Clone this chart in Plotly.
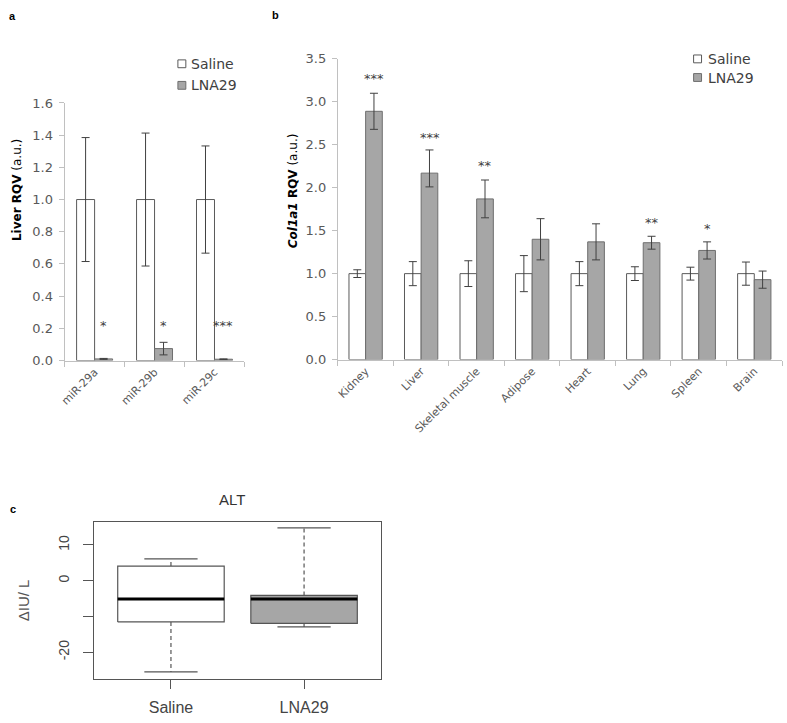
import plotly.graph_objects as go

W, H = 787, 723

# ---------------- data ----------------
series_names = ["Saline", "LNA29"]

# panel a
mir_labels = ["miR-29a", "miR-29b", "miR-29c"]
mir_saline = [1.0, 1.0, 1.0]
mir_saline_err = [0.385, 0.413, 0.333]
mir_lna = [0.010, 0.074, 0.008]
mir_lna_err = [0.003, 0.039, 0.002]
mir_stars = ["*", "*", "***"]
mir_star_y = [0.237, 0.237, 0.237]

# panel b
tissues = ["Kidney", "Liver", "Skeletal muscle", "Adipose", "Heart", "Lung", "Spleen", "Brain"]
col_saline = [1.0, 1.0, 1.0, 1.0, 1.0, 1.0, 1.0, 1.0]
col_saline_err = [0.045, 0.14, 0.15, 0.21, 0.14, 0.08, 0.075, 0.135]
col_lna = [2.89, 2.17, 1.87, 1.40, 1.37, 1.36, 1.27, 0.93]
col_lna_err_up = [0.21, 0.27, 0.22, 0.24, 0.21, 0.075, 0.10, 0.10]
col_lna_err_dn = [0.21, 0.16, 0.22, 0.24, 0.21, 0.075, 0.10, 0.10]
col_stars = ["***", "***", "**", "", "", "**", "*", ""]
col_star_y = [3.31, 2.62, 2.29, None, None, 1.63, 1.56, None]

# panel c (box plot statistics, ALT in IU/L)
alt_groups = ["Saline", "LNA29"]
alt_lower = [-25.5, -12.9]
alt_q1 = [-11.5, -11.9]
alt_median = [-5.1, -5.1]
alt_q3 = [4.1, -4.1]
alt_upper = [6.1, 14.8]
alt_ticks = [10, 0, -10, -20]
alt_ticktext = ["10", "0", "", "-20"]

# ---------------- styles ----------------
FONT = "DejaVu Sans"
TICKC = "#595959"
AXC = "#c0c0c0"
SAL_FILL = "white"
SAL_LINE = "#5a5a5a"
LNA_FILL = "#a6a6a6"
LNA_LINE = "#6e6e6e"
ERRC = "#404040"


def px_x(p):
    return p / W


def px_y(p):
    return 1 - p / H


fig = go.Figure()

# panel a bars
fig.add_trace(go.Bar(x=mir_labels, y=mir_saline, name=series_names[0], xaxis="x", yaxis="y",
                     marker=dict(color=SAL_FILL, line=dict(color=SAL_LINE, width=1)),
                     error_y=dict(type="data", array=mir_saline_err, color=ERRC, thickness=1, width=4),
                     showlegend=False))
fig.add_trace(go.Bar(x=mir_labels, y=mir_lna, name=series_names[1], xaxis="x", yaxis="y",
                     marker=dict(color=LNA_FILL, line=dict(color=LNA_LINE, width=1)),
                     error_y=dict(type="data", array=mir_lna_err, color=ERRC, thickness=1, width=4),
                     showlegend=False))

# panel b bars
fig.add_trace(go.Bar(x=tissues, y=col_saline, name=series_names[0], xaxis="x2", yaxis="y2",
                     marker=dict(color=SAL_FILL, line=dict(color=SAL_LINE, width=1)),
                     error_y=dict(type="data", array=col_saline_err, color=ERRC, thickness=1, width=4),
                     showlegend=False))
fig.add_trace(go.Bar(x=tissues, y=col_lna, name=series_names[1], xaxis="x2", yaxis="y2",
                     marker=dict(color=LNA_FILL, line=dict(color=LNA_LINE, width=1)),
                     error_y=dict(type="data", symmetric=False, array=col_lna_err_up,
                                  arrayminus=col_lna_err_dn, color=ERRC, thickness=1, width=4),
                     showlegend=False))

# panel c box plots built from statistics
box_fill = [SAL_FILL, LNA_FILL]
for i, g in enumerate(alt_groups):
    hw = 0.4
    cw = 0.2
    fig.add_trace(go.Scatter(x=[i - hw, i + hw, i + hw, i - hw, i - hw],
                             y=[alt_q1[i], alt_q1[i], alt_q3[i], alt_q3[i], alt_q1[i]],
                             fill="toself", fillcolor=box_fill[i], mode="lines",
                             line=dict(color="#555555", width=1.2), xaxis="x3", yaxis="y3",
                             showlegend=False, hoverinfo="skip"))
    fig.add_trace(go.Scatter(x=[i, i, None, i, i],
                             y=[alt_q3[i], alt_upper[i], None, alt_q1[i], alt_lower[i]],
                             mode="lines", line=dict(color="#555555", width=1.2, dash="4px,3px"),
                             xaxis="x3", yaxis="y3", showlegend=False, hoverinfo="skip"))
    fig.add_trace(go.Scatter(x=[i - cw, i + cw, None, i - cw, i + cw],
                             y=[alt_upper[i], alt_upper[i], None, alt_lower[i], alt_lower[i]],
                             mode="lines", line=dict(color="#555555", width=1.2),
                             xaxis="x3", yaxis="y3", showlegend=False, hoverinfo="skip"))
    fig.add_trace(go.Scatter(x=[i - hw, i + hw], y=[alt_median[i], alt_median[i]],
                             mode="lines", line=dict(color="black", width=3.2),
                             xaxis="x3", yaxis="y3", showlegend=False, hoverinfo="skip"))

annotations = []
shapes = []

# stars
for lab, s, yy in zip(mir_labels, mir_stars, mir_star_y):
    if s:
        annotations.append(dict(x=lab, y=yy, xref="x", yref="y", text=s, showarrow=False,
                                xshift=8.7, yshift=-3, font=dict(family=FONT, size=13, color=ERRC)))
for lab, s, yy in zip(tissues, col_stars, col_star_y):
    if s:
        annotations.append(dict(x=lab, y=yy, xref="x2", yref="y2", text=s, showarrow=False,
                                xshift=8.5, yshift=-3, font=dict(family=FONT, size=13, color=ERRC)))

# axis titles
annotations.append(dict(x=px_x(12), y=px_y(187), xref="paper", yref="paper", textangle=-90,
                        xanchor="center", yanchor="middle",
                        text="<b>Liver RQV</b> (a.u.)", showarrow=False,
                        font=dict(family=FONT, size=12, color="black")))
annotations.append(dict(x=px_x(290), y=px_y(188), xref="paper", yref="paper", textangle=-90,
                        xanchor="center", yanchor="middle",
                        text="<b><i>Col1a1</i> RQV</b> (a.u.)", showarrow=False,
                        font=dict(family=FONT, size=12, color="black")))

# panel letters
for letter, lx, ly in [("a", 8, 9), ("b", 272, 8), ("c", 8, 513)]:
    annotations.append(dict(x=px_x(lx), y=px_y(ly), xref="paper", yref="paper", text="<b>%s</b>" % letter,
                            xanchor="center", yanchor="middle",
                            showarrow=False, font=dict(family="Liberation Sans", size=11, color="black")))

# legends (custom)
for (sx, tx, ys) in [(174, 185, (58, 80)), (693, 705, (53, 72))]:
    for name, fillc, linec, yc in zip(series_names, [SAL_FILL, LNA_FILL], [SAL_LINE, LNA_LINE], ys):
        shapes.append(dict(type="rect", xref="paper", yref="paper",
                           x0=px_x(sx), x1=px_x(sx + 8), y0=px_y(yc - 4), y1=px_y(yc + 4),
                           fillcolor=fillc, line=dict(color=linec, width=1)))
        annotations.append(dict(x=px_x(tx), y=px_y(yc), xref="paper", yref="paper", text=name,
                                xanchor="left", yanchor="middle", showarrow=False,
                                font=dict(family=FONT, size=14, color="#404040")))

# panel c title and ylabel
annotations.append(dict(x=px_x(228), y=px_y(503), xref="paper", yref="paper", text="ALT", showarrow=False,
                        xanchor="center", yanchor="middle",
                        font=dict(family="Liberation Sans", size=15, color="#333333")))
annotations.append(dict(x=px_x(19), y=px_y(606), xref="paper", yref="paper", text="ΔIU/ L",
                        xanchor="center", yanchor="middle",
                        textangle=-90, showarrow=False,
                        font=dict(family="Liberation Sans", size=15, color="#555555")))

ax_common = dict(showline=True, linecolor=AXC, linewidth=1, ticks="outside", tickcolor=AXC,
                 ticklen=5, showgrid=False, zeroline=False, ticklabelstandoff=3,
                 tickfont=dict(family=FONT, size=13, color=TICKC))

fig.update_layout(
    width=W, height=H, margin=dict(l=0, r=0, t=0, b=0),
    paper_bgcolor="white", plot_bgcolor="white",
    barmode="group",
    bargap=0.4,
    showlegend=False,
    xaxis=dict(domain=[px_x(60), px_x(241)], anchor="y", type="category",
               showline=True, linecolor=AXC, ticks="outside", tickcolor=AXC, ticklen=5,
               tickson="boundaries", tickangle=-45, showgrid=False,
               tickfont=dict(family=FONT, size=11, color=TICKC)),
    yaxis=dict(domain=[px_y(361), px_y(98)], anchor="x", range=[0, 1.6], dtick=0.2,
               tickformat=".1f", **ax_common),
    xaxis2=dict(domain=[px_x(335), px_x(782)], anchor="y2", type="category",
                showline=True, linecolor=AXC, ticks="outside", tickcolor=AXC, ticklen=5,
                tickson="boundaries", tickangle=-45, showgrid=False,
                tickfont=dict(family=FONT, size=11, color=TICKC)),
    yaxis2=dict(domain=[px_y(360), px_y(53)], anchor="x2", range=[0, 3.5], dtick=0.5,
                tickformat=".1f", **ax_common),
    xaxis3=dict(domain=[px_x(90), px_x(378)], anchor="y3", range=[-0.575, 1.575],
                tickvals=[0, 1], ticktext=alt_groups, showline=True, mirror=True,
                linecolor="#555555", linewidth=1.2, ticks="outside", ticklen=9, tickcolor="#555555",
                showgrid=False, zeroline=False, ticklabelstandoff=5,
                tickfont=dict(family="Liberation Sans", size=16, color="#444444")),
    yaxis3=dict(domain=[px_y(686), px_y(526)], anchor="x3", range=[-27.4, 16.4],
                tickvals=alt_ticks, ticktext=alt_ticktext, tickangle=-90, showline=True, mirror=True,
                linecolor="#555555", linewidth=1.2, ticks="outside", ticklen=10, tickcolor="#555555",
                showgrid=False, zeroline=False, ticklabelstandoff=9,
                tickfont=dict(family="Liberation Sans", size=14, color="#444444")),
    annotations=annotations,
    shapes=shapes,
)

# place the figure at the page origin (remove the browser's default body margin)
fig.write_html("out.html", config={"displayModeBar": False},
               post_script="document.body.style.margin='0';document.body.style.overflow='hidden';")
